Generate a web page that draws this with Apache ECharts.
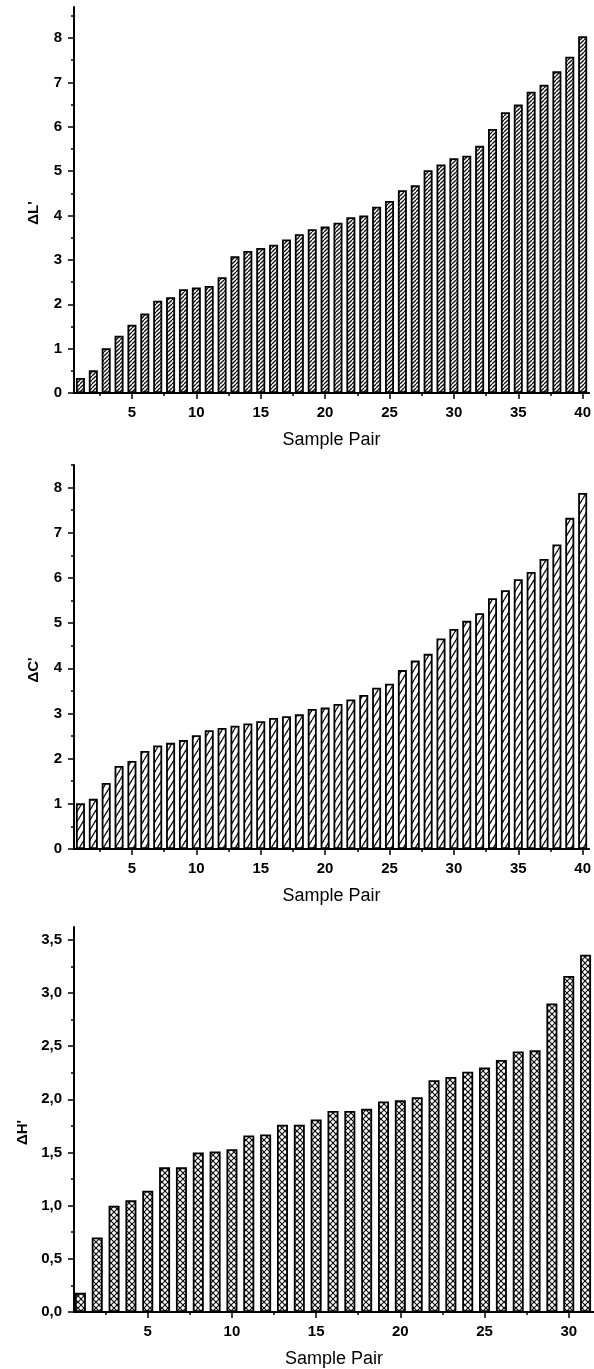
<!DOCTYPE html>
<html>
<head>
<meta charset="utf-8">
<script src="https://cdn.jsdelivr.net/npm/echarts@6/dist/echarts.min.js"></script>
<style>
html,body{margin:0;padding:0;background:#fff;}
#chart{width:594px;height:1369px;}
</style>
</head>
<body>
<div id="chart"></div>
<script>
// ---------- DATA ----------
const pairs40 = [1,2,3,4,5,6,7,8,9,10,11,12,13,14,15,16,17,18,19,20,21,22,23,24,25,26,27,28,29,30,31,32,33,34,35,36,37,38,39,40];
const pairs31 = [1,2,3,4,5,6,7,8,9,10,11,12,13,14,15,16,17,18,19,20,21,22,23,24,25,26,27,28,29,30,31];

const deltaL = [0.34,0.51,1.01,1.29,1.54,1.79,2.08,2.16,2.34,2.38,2.41,2.61,3.08,3.20,3.27,3.34,3.46,3.58,3.69,3.75,
                3.84,3.96,4.00,4.20,4.33,4.57,4.68,5.02,5.15,5.29,5.35,5.57,5.95,6.33,6.50,6.79,6.95,7.25,7.58,8.04];
const deltaC = [1.01,1.11,1.46,1.84,1.95,2.17,2.29,2.35,2.41,2.52,2.63,2.68,2.73,2.78,2.83,2.90,2.94,2.98,3.10,3.13,
                3.21,3.31,3.41,3.57,3.66,3.96,4.17,4.32,4.66,4.87,5.05,5.22,5.55,5.73,5.97,6.13,6.42,6.74,7.33,7.88];
const deltaH = [0.18,0.70,1.00,1.05,1.14,1.36,1.36,1.50,1.51,1.53,1.66,1.67,1.76,1.76,1.81,1.89,1.89,1.91,1.98,1.99,
                2.02,2.18,2.21,2.26,2.30,2.37,2.45,2.46,2.90,3.16,3.36];

const xTicks40 = [5,10,15,20,25,30,35,40];
const xMinor40 = [2.5,7.5,12.5,17.5,22.5,27.5,32.5,37.5];
const xTicks31 = [5,10,15,20,25,30];
const xMinor31 = [2.5,7.5,12.5,17.5,22.5,27.5];
const yTicksLC = [0,1,2,3,4,5,6,7,8];
const yMinorLC = [0.5,1.5,2.5,3.5,4.5,5.5,6.5,7.5,8.5];
const yTicksH = [0,0.5,1,1.5,2,2.5,3,3.5];
const yMinorH = [0.25,0.75,1.25,1.75,2.25,2.75,3.25];

const nameL = 'ΔL\'';
const nameC = 'ΔC\'';
const nameH = 'ΔH\'';
const xName = 'Sample Pair';

// ---------- PATTERNS ----------
function hatch(w, h, lw, cross) {
  const c = document.createElement('canvas');
  c.width = w; c.height = h;
  const g = c.getContext('2d');
  g.fillStyle = '#fff'; g.fillRect(0, 0, w, h);
  g.strokeStyle = '#111'; g.lineWidth = lw; g.lineCap = 'butt';
  for (let k = -1; k <= 1; k++) {
    g.beginPath(); g.moveTo(k * w, h); g.lineTo(k * w + w, 0); g.stroke();
    if (cross) { g.beginPath(); g.moveTo(k * w, 0); g.lineTo(k * w + w, h); g.stroke(); }
  }
  return c;
}
const patL = { image: hatch(4, 4, 1.3, false), repeat: 'repeat' };
const patC = { image: hatch(6, 10, 1.3, false), repeat: 'repeat' };
const patH = { image: hatch(6, 6, 1.2, true), repeat: 'repeat' };

// ---------- CHART ----------
const FONT = '"Liberation Sans", Arial, sans-serif';
const panels = [
  { top: 7,   height: 386, xmin: 0.5,  xmax: 40.5, ymax: 8.7,  x: pairs40, y: deltaL, xt: xTicks40, xm: xMinor40, yt: yTicksLC, ym: yMinorLC, name: nameL, nameGap: 33, fill: patL, bw: 9, fmt: v => String(v) },
  { top: 465, height: 384, xmin: 0.5,  xmax: 40.5, ymax: 8.5,  x: pairs40, y: deltaC, xt: xTicks40, xm: xMinor40, yt: yTicksLC, ym: yMinorLC, name: nameC, nameGap: 33, fill: patC, bw: 9, fmt: v => String(v) },
  { top: 927, height: 385, xmin: 0.62, xmax: 31.5, ymax: 3.62, x: pairs31, y: deltaH, xt: xTicks31, xm: xMinor31, yt: yTicksH, ym: yMinorH, name: nameH, nameGap: 40, fill: patH, bw: 11, fmt: v => v.toFixed(1).replace('.', ',') }
];

const grid = [], xAxis = [], yAxis = [], series = [];
panels.forEach((p, i) => {
  grid.push({ left: 74, top: p.top, width: 520, height: p.height });
  const lineStyle = { color: '#000', width: 2 };
  xAxis.push({
    type: 'value', gridIndex: i, position: 'bottom', min: p.xmin, max: p.xmax,
    axisLine: { show: true, onZero: false, lineStyle },
    axisTick: { show: true, inside: false, length: 6, customValues: p.xt, lineStyle: { color: '#000', width: 1.5 } },
    axisLabel: { show: true, customValues: p.xt, margin: 12, color: '#000', fontFamily: FONT, fontWeight: 'bold', fontSize: 15 },
    splitLine: { show: false },
    name: xName, nameLocation: 'middle', nameGap: 38,
    nameTextStyle: { color: '#000', fontFamily: FONT, fontSize: 18 }
  });
  xAxis.push({
    type: 'value', gridIndex: i, position: 'bottom', min: p.xmin, max: p.xmax,
    axisLine: { show: false },
    axisTick: { show: true, inside: false, length: 3, customValues: p.xm, lineStyle: { color: '#000', width: 1.5 } },
    axisLabel: { show: false }, splitLine: { show: false }
  });
  yAxis.push({
    type: 'value', gridIndex: i, position: 'left', min: 0, max: p.ymax,
    axisLine: { show: true, onZero: false, lineStyle },
    axisTick: { show: true, inside: false, length: 6, customValues: p.yt, lineStyle: { color: '#000', width: 1.5 } },
    axisLabel: { show: true, customValues: p.yt, margin: 12, color: '#000', fontFamily: FONT, fontWeight: 'bold', fontSize: 15, formatter: p.fmt },
    splitLine: { show: false },
    name: p.name, nameLocation: 'middle', nameGap: p.nameGap, nameRotate: 90,
    nameTextStyle: { color: '#000', fontFamily: FONT, fontWeight: 'bold', fontSize: 15, padding: [0, 26, 0, 0] }
  });
  yAxis.push({
    type: 'value', gridIndex: i, position: 'left', min: 0, max: p.ymax,
    axisLine: { show: false },
    axisTick: { show: true, inside: false, length: 3, customValues: p.ym, lineStyle: { color: '#000', width: 1.5 } },
    axisLabel: { show: false }, splitLine: { show: false }
  });
  series.push({
    type: 'bar', xAxisIndex: 2 * i, yAxisIndex: 2 * i,
    barWidth: p.bw,
    data: p.x.map((xv, k) => [xv, p.y[k]]),
    itemStyle: { color: p.fill, borderColor: '#000', borderWidth: 1.8 },
    emphasis: { disabled: true },
    z: 1
  });
});

const chart = echarts.init(document.getElementById('chart'), null, { renderer: 'canvas' });
chart.setOption({
  animation: false,
  backgroundColor: '#fff',
  grid, xAxis, yAxis, series
});
</script>
</body>
</html>
